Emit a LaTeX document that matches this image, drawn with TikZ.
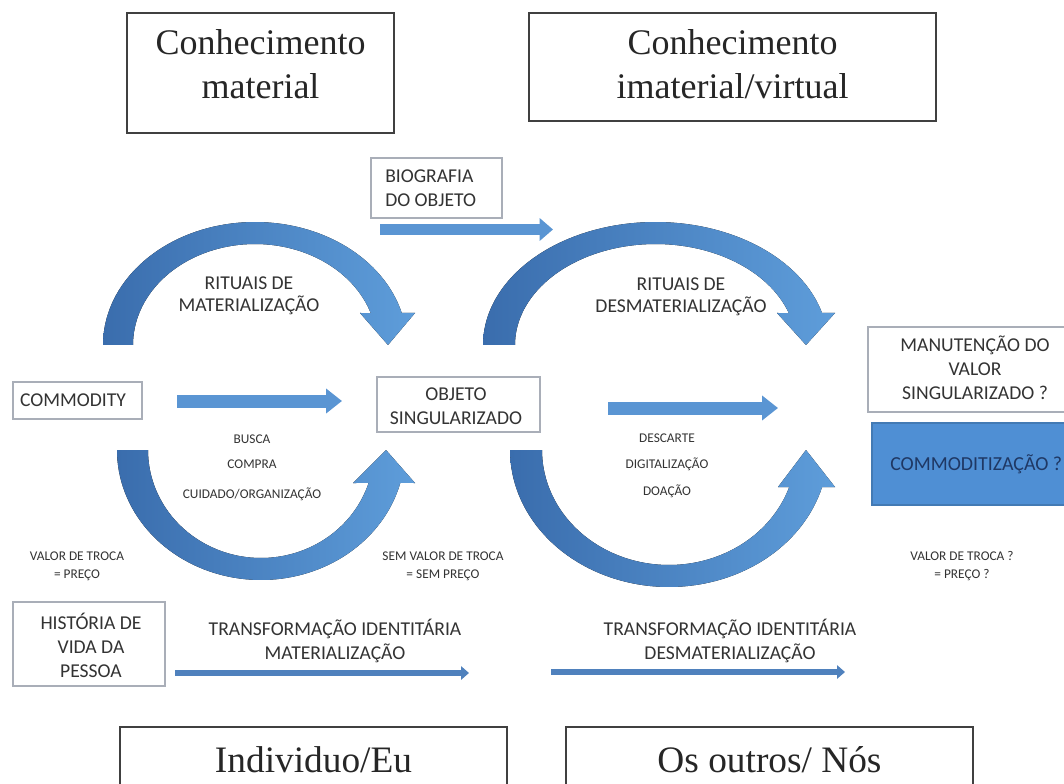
\documentclass[tikz,border=0pt]{standalone}
\usepackage{fontspec}
\setmainfont{Carlito}
\newfontfamily\serifface{Liberation Serif}
\usetikzlibrary{arrows.meta}
\definecolor{arcdark}{HTML}{3A6DAD}
\definecolor{arclight}{HTML}{5E9DDA}
\definecolor{arrowblue}{HTML}{5A95D3}
\definecolor{thinblue}{HTML}{4F81BD}
\definecolor{boxgray}{HTML}{A9AEB8}
\definecolor{txt}{HTML}{333333}
\definecolor{navy}{HTML}{1F3864}
\definecolor{fillblue}{HTML}{4F8FD4}
\tikzset{
  topbox/.style={draw=black!75, line width=1.1pt, fill=white},
  smallbox/.style={draw=boxgray, line width=0.8pt, fill=white},
  serift/.style={font=\serifface\fontsize{27}{33}\selectfont, align=center, inner sep=0pt, text=black!85},
  bigt/.style={font=\fontsize{14.7}{18}\selectfont, align=center, inner sep=0pt, text=txt},
  smallt/.style={font=\fontsize{10}{13.5}\selectfont, align=center, inner sep=0pt, text=txt},
  fatarrow/.style={draw=arrowblue, line width=9.75pt, -{Triangle[length=12pt,width=18pt]}},
  bioarrow/.style={draw=arrowblue, line width=8.25pt, -{Triangle[length=10pt,width=16.5pt]}},
  thinarrow/.style={draw=thinblue, line width=4.5pt, -{Triangle[length=6pt,width=10pt]}},
  curvedarrow/.style={left color=arcdark, right color=arclight}
}
\begin{document}
\begin{tikzpicture}[x=0.75pt,y=-0.75pt]
\useasboundingbox (0,0) rectangle (1064,784);
\clip (0,0) rectangle (1064,784);
\fill[white] (0,0) rectangle (1064,784);

% top and bottom category boxes
\node[topbox, minimum width=200.25pt, minimum height=90pt] (top1) at (260.5,73) {};
\node[serift] (top1t) at (260.5,64) {Conhecimento\\material};
\node[topbox, minimum width=305.25pt, minimum height=81pt] (top2) at (732.5,67) {};
\node[serift] (top2t) at (732.5,64) {Conhecimento\\imaterial/virtual};
\node[topbox, minimum width=290.25pt, minimum height=57pt] (bot1) at (313.5,765) {};
\node[serift, font=\serifface\fontsize{28}{33}\selectfont] (bot1t) at (313.5,760) {Individuo/Eu};
\node[topbox, minimum width=305.25pt, minimum height=57pt] (bot2) at (769.5,765) {};
\node[serift, font=\serifface\fontsize{28}{33}\selectfont] (bot2t) at (769.5,760) {Os outros/ Nós};

% curved arrows
\fill[curvedarrow]
  plot[domain=180:15.08, samples=70] ({255+152*cos(\x)},{345-123*sin(\x)})
  -- (415,313) -- (388,345) -- (360,313)
  -- plot[domain=18.47:180, samples=70] ({255+122*cos(\x)},{345-101*sin(\x)})
  -- cycle;
\fill[curvedarrow]
  plot[domain=180:15.08, samples=70] ({655.5+172.5*cos(\x)},{345-123*sin(\x)})
  -- (835,313) -- (806,345) -- (777,313)
  -- plot[domain=18.47:180, samples=70] ({655.5+140.5*cos(\x)},{345-101*sin(\x)})
  -- cycle;
\fill[curvedarrow]
  plot[domain=180:345.30, samples=70] ({261+144*cos(\x)},{450-130*sin(\x)})
  -- (415,483) -- (386,450) -- (353,483)
  -- plot[domain=342.21:180, samples=70] ({261+113*cos(\x)},{450-108*sin(\x)})
  -- cycle;
\fill[curvedarrow]
  plot[domain=180:344.33, samples=70] ({669+159*cos(\x)},{450-137*sin(\x)})
  -- (835,487) -- (806,450) -- (778,487)
  -- plot[domain=341.23:180, samples=70] ({669+127*cos(\x)},{450-115*sin(\x)})
  -- cycle;

% small boxes
\node[smallbox, minimum width=98.25pt, minimum height=45pt] (bio) at (436.5,188) {};
\node[bigt, anchor=west, align=left] (biot) at (385,188) {BIOGRAFIA\\DO OBJETO};
\node[smallbox, minimum width=96.75pt, minimum height=27.75pt] (comm) at (77.5,400.5) {};
\node[bigt] (commt) at (73,400.5) {COMMODITY};
\node[smallbox, minimum width=122.25pt, minimum height=41.25pt] (obj) at (458.5,404.5) {};
\node[bigt] (objt) at (456,406) {OBJETO\\SINGULARIZADO};
\node[smallbox, minimum width=162.75pt, minimum height=63.75pt] (man) at (976.5,369.5) {};
\node[bigt] (mant) at (975,368) {MANUTENÇÃO DO\\VALOR\\SINGULARIZADO ?};
\node[draw=fillblue!85!black, fill=fillblue, line width=0.8pt, minimum width=159.75pt, minimum height=61.5pt] (cmz) at (978.5,464) {};
\node[bigt, text=navy, anchor=west, font=\fontsize{14.9}{18}\selectfont] (cmzt) at (890,464) {COMMODITIZAÇÃO ?};
\node[smallbox, minimum width=114pt, minimum height=63pt] (hist) at (89,644) {};
\node[bigt] (histt) at (91,645) {HISTÓRIA DE\\VIDA DA\\PESSOA};

% straight arrows
\coordinate (bioS) at (380,229.5);
\coordinate (bioE) at (553,229.5);
\draw[bioarrow] (bioS) -- (bioE);
\coordinate (a1S) at (177,401);
\coordinate (a1E) at (342,401);
\draw[fatarrow] (a1S) -- (a1E);
\coordinate (a2S) at (608,408);
\coordinate (a2E) at (778,408);
\draw[fatarrow] (a2S) -- (a2E);
\coordinate (t1S) at (175,673);
\coordinate (t1E) at (469,673);
\draw[thinarrow] (t1S) -- (t1E);
\coordinate (t2S) at (551,672);
\coordinate (t2E) at (845,672);
\draw[thinarrow] (t2S) -- (t2E);

% labels
\node[bigt, font=\fontsize{14.7}{16.5}\selectfont] (rit1) at (249,296) {RITUAIS DE\\MATERIALIZAÇÃO};
\node[bigt, font=\fontsize{14.7}{16.5}\selectfont] (rit2) at (681,297) {RITUAIS DE\\DESMATERIALIZAÇÃO};
\node[smallt] (busca) at (252,439) {BUSCA};
\node[smallt] (compra) at (252,464) {COMPRA};
\node[smallt] (cuid) at (252,494) {CUIDADO/ORGANIZAÇÃO};
\node[smallt] (desc) at (667,438) {DESCARTE};
\node[smallt] (digi) at (667,464) {DIGITALIZAÇÃO};
\node[smallt] (doac) at (667,491) {DOAÇÃO};
\node[smallt] (val1) at (77,566) {VALOR DE TROCA\\= PREÇO};
\node[smallt] (val2) at (443,566) {SEM VALOR DE TROCA\\= SEM PREÇO};
\node[smallt] (val3) at (962,566) {VALOR DE TROCA ?\\= PREÇO ?};
\node[bigt, font=\fontsize{14.7}{17.5}\selectfont] (tr1) at (335,641) {TRANSFORMAÇÃO IDENTITÁRIA\\MATERIALIZAÇÃO};
\node[bigt, font=\fontsize{14.7}{17.5}\selectfont] (tr2) at (730,641) {TRANSFORMAÇÃO IDENTITÁRIA\\DESMATERIALIZAÇÃO};
\end{tikzpicture}
\end{document}
